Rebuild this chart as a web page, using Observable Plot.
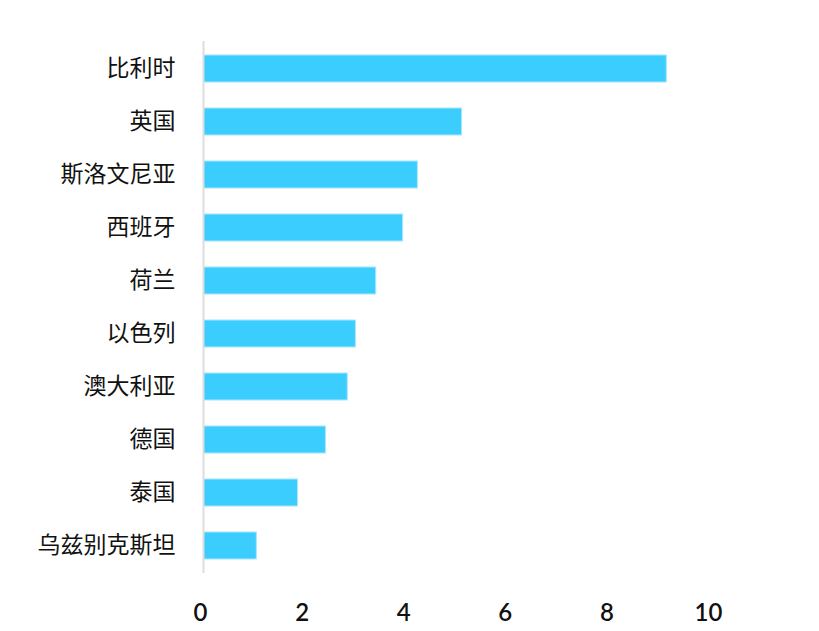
<!DOCTYPE html>
<html>
<head>
<meta charset="utf-8">
<script src="https://cdn.jsdelivr.net/npm/d3@7"></script>
<script src="https://cdn.jsdelivr.net/npm/@observablehq/plot@0.6"></script>
<style>
  html, body { margin: 0; padding: 0; background: #fff; }
  #chart { width: 819px; height: 631px; }
</style>
</head>
<body>
<div id="chart"></div>
<script>
const countries = ["比利时", "英国", "斯洛文尼亚", "西班牙", "荷兰", "以色列", "澳大利亚", "德国", "泰国", "乌兹别克斯坦"];
const values = [9.12, 5.09, 4.22, 3.93, 3.40, 3.00, 2.84, 2.41, 1.86, 1.05];
const xTicks = [0, 2, 4, 6, 8, 10];

const data = countries.map((c, i) => ({country: c, value: values[i]}));

const chart = Plot.plot({
  width: 819,
  height: 631,
  marginTop: 41,
  marginBottom: 58,
  marginLeft: 203,
  marginRight: 108,
  style: {fontFamily: "'Noto Sans CJK SC', 'Noto Sans', sans-serif", fontSize: "20px", color: "#111", background: "#fff"},
  x: {domain: [0, 10], ticks: xTicks, label: null},
  y: {domain: countries, paddingInner: 0.5, paddingOuter: 0.25, label: null},
  marks: [
    Plot.barX(data, {x: "value", y: "country", fill: "#3ccdff", stroke: "#a8e6ff", strokeWidth: 1, insetLeft: 0.5}),
    Plot.ruleX([0], {stroke: "#dddddd", strokeWidth: 2}),
    Plot.axisX({ticks: xTicks, tickSize: 0, tickPadding: 30, fontSize: 24, fontFamily: "Lato, 'Noto Sans', sans-serif", fontWeight: 600, label: null, dx: -3}),
    Plot.axisY({tickSize: 0, tickPadding: 28, fontSize: 23, label: null})
  ]
});
document.getElementById("chart").appendChild(chart);
</script>
</body>
</html>
